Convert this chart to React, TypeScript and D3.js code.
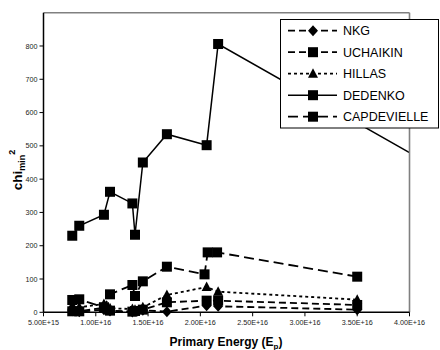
import React, { useEffect, useRef } from "react";
import * as d3 from "d3";

// energies (E_p) for each series
const energyLow = [7.75e15, 8.42e15, 1.078e16, 1.136e16, 1.35e16, 1.375e16, 1.45e16, 1.68e16, 2.06e16, 2.17e16, 3.5e16];
const energyCap = [7.75e15, 8.42e15, 1.078e16, 1.136e16, 1.35e16, 1.375e16, 1.45e16, 1.68e16, 2.04e16, 2.07e16, 2.16e16, 3.5e16];
const energyDed = [7.75e15, 8.42e15, 1.078e16, 1.136e16, 1.35e16, 1.375e16, 1.45e16, 1.68e16, 2.06e16, 2.17e16, 4.6e16];

const nkg = [5, 2, 8, 4, 1, 3, 6, 2, 20, 18, 8];
const uchaikin = [3, 3, 14, 5, 2, 4, 8, 30, 35, 35, 22];
const hillas = [20, 15, 25, 12, 10, 8, 15, 52, 76, 62, 38];
const dedenko = [230, 260, 293, 362, 327, 233, 450, 535, 502, 806, 373];
const capdevielle = [37, 39, 15, 54, 82, 49, 93, 137, 114, 180, 180, 107];

const xTicks = [5e15, 1e16, 1.5e16, 2e16, 2.5e16, 3e16, 3.5e16, 4e16];
const yTicks = [0, 100, 200, 300, 400, 500, 600, 700, 800];

const seriesNames = ["NKG", "UCHAIKIN", "HILLAS", "DEDENKO", "CAPDEVIELLE"];

const FONT = "Liberation Sans, Arial, sans-serif";

export default function App() {
  const ref = useRef<any>();

  useEffect(() => {
    const width = 440, height = 350;
    const svg = d3.select(ref.current).attr("width", width).attr("height", height);
    svg.selectAll("*").remove();

    const xMax = 4e16;
    const x = d3.scaleLinear().domain([5e15, xMax]).range([43.5, 409.5]);
    const y = d3.scaleLinear().domain([0, 900]).range([312.3, 12.7]);

    const series = [
      { name: seriesNames[0], xs: energyLow, ys: nkg, dash: "7,4", marker: "diamond" },
      { name: seriesNames[1], xs: energyLow, ys: uchaikin, dash: "7,4", marker: "square" },
      { name: seriesNames[2], xs: energyLow, ys: hillas, dash: "3,3", marker: "triangle" },
      { name: seriesNames[3], xs: energyDed, ys: dedenko, dash: null, marker: "square" },
      { name: seriesNames[4], xs: energyCap, ys: capdevielle, dash: "10,5", marker: "square" },
    ];

    function drawMarker(g: any, kind: string, cx: number, cy: number) {
      if (kind === "square") {
        g.append("rect").attr("x", cx - 5).attr("y", cy - 5).attr("width", 10).attr("height", 10).attr("fill", "#000");
      } else if (kind === "diamond") {
        g.append("path").attr("d", `M${cx},${cy - 5.5}L${cx + 5},${cy}L${cx},${cy + 5.5}L${cx - 5},${cy}Z`).attr("fill", "#000");
      } else {
        g.append("path").attr("d", `M${cx},${cy - 5.5}L${cx + 5},${cy + 4}L${cx - 5},${cy + 4}Z`).attr("fill", "#000");
      }
    }

    const plot = svg.append("g");
    series.forEach((s) => {
      // cut the series at the right edge of the axis (points past it are not shown)
      const pts: [number, number][] = [];
      for (let i = 0; i < s.xs.length; i++) {
        if (s.xs[i] <= xMax) {
          pts.push([s.xs[i], s.ys[i]]);
        } else {
          const x0 = s.xs[i - 1], y0 = s.ys[i - 1];
          const t = (xMax - x0) / (s.xs[i] - x0);
          pts.push([xMax, y0 + t * (s.ys[i] - y0)]);
          break;
        }
      }
      const line = d3.line<[number, number]>().x((d) => x(d[0])).y((d) => y(d[1]));
      plot.append("path").attr("d", line(pts)).attr("fill", "none").attr("stroke", "#000")
        .attr("stroke-width", s.dash ? 1.8 : 1.5)
        .attr("stroke-dasharray", s.dash);
      s.xs.forEach((e, i) => {
        if (e <= xMax) drawMarker(plot, s.marker, x(e), y(s.ys[i]));
      });
    });

    // plot frame (grey top / right)
    svg.append("line").attr("x1", x(5e15)).attr("x2", x(xMax)).attr("y1", y(900)).attr("y2", y(900))
      .attr("stroke", "#808080").attr("stroke-width", 1.6);
    svg.append("line").attr("x1", x(xMax)).attr("x2", x(xMax)).attr("y1", y(900)).attr("y2", y(0))
      .attr("stroke", "#808080").attr("stroke-width", 1.6);

    // axes
    const xAxis = svg.append("g");
    xAxis.append("line").attr("x1", x(5e15)).attr("x2", x(xMax)).attr("y1", y(0)).attr("y2", y(0))
      .attr("stroke", "#000").attr("stroke-width", 1.5);
    xTicks.forEach((t) => {
      xAxis.append("line").attr("x1", x(t)).attr("x2", x(t)).attr("y1", y(0)).attr("y2", y(0) + 4)
        .attr("stroke", "#000");
      xAxis.append("text").attr("x", x(t)).attr("y", y(0) + 13).attr("text-anchor", "middle")
        .attr("font-family", FONT).attr("font-size", 7.2).attr("fill", "#222")
        .text(d3.format(".2e")(t).toUpperCase());
    });

    const yAxis = svg.append("g");
    yAxis.append("line").attr("x1", x(5e15)).attr("x2", x(5e15)).attr("y1", y(900)).attr("y2", y(0))
      .attr("stroke", "#000").attr("stroke-width", 1.5);
    yTicks.forEach((t) => {
      yAxis.append("line").attr("x1", x(5e15) - 4).attr("x2", x(5e15)).attr("y1", y(t)).attr("y2", y(t))
        .attr("stroke", "#000");
      yAxis.append("text").attr("x", x(5e15) - 6).attr("y", y(t) + 2.6).attr("text-anchor", "end")
        .attr("font-family", FONT).attr("font-size", 7.2).attr("fill", "#222")
        .text(t);
    });

    // axis titles
    const xt = svg.append("text").attr("x", 226).attr("y", 346).attr("text-anchor", "middle")
      .attr("font-family", FONT).attr("font-size", 12).attr("font-weight", "bold");
    xt.append("tspan").text("Primary Energy (E");
    xt.append("tspan").attr("font-size", 8).attr("dy", 2.5).text("p");
    xt.append("tspan").attr("dy", -2.5).text(")");

    const yt = svg.append("text").attr("transform", "translate(22,170) rotate(-90)").attr("text-anchor", "middle")
      .attr("font-family", FONT).attr("font-size", 13.5).attr("font-weight", "bold");
    yt.append("tspan").text("chi");
    yt.append("tspan").attr("font-size", 9).attr("dy", 3).text("min");
    yt.append("tspan").attr("font-size", 9).attr("dy", -10).text("2");

    // legend
    const lg = svg.append("g");
    lg.append("rect").attr("x", 280.5).attr("y", 19.5).attr("width", 158).attr("height", 108.5)
      .attr("fill", "#fff").attr("stroke", "#000").attr("stroke-width", 1);
    series.forEach((s, i) => {
      const ry = 30.7 + i * 21.5;
      lg.append("line").attr("x1", 288).attr("x2", 337).attr("y1", ry).attr("y2", ry)
        .attr("stroke", "#000").attr("stroke-width", s.dash ? 1.8 : 1.5).attr("stroke-dasharray", s.dash);
      drawMarker(lg, s.marker, 313, ry);
      lg.append("text").attr("x", 343).attr("y", ry + 4.5)
        .attr("font-family", FONT).attr("font-size", 12.5).attr("fill", "#000")
        .text(s.name);
    });
  }, []);

  return (
    <div style={{ position: "absolute", left: 0, top: 0 }}>
      <svg ref={ref} style={{ display: "block" }}></svg>
    </div>
  );
}
